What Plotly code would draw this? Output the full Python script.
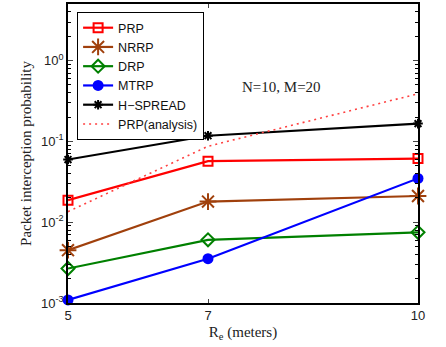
import plotly.graph_objects as go

re_vals = [5, 7, 10]
prp = [0.0187, 0.0569, 0.0613]
nrrp = [0.0045, 0.0180, 0.0211]
drp = [0.00267, 0.00605, 0.0075]
mtrp = [0.00109, 0.00353, 0.0348]
hspread = [0.0596, 0.1175, 0.166]
prp_analysis = [0.0135, 0.087, 0.388]

ytick_vals = [1e-3, 1e-2, 1e-1, 1e0]
ytick_text = ["10<sup>-3</sup>", "10<sup>-2</sup>", "10<sup>-1</sup>", "10<sup>0</sup>"]
xtick_vals = [5, 7, 10]
minor_vals = [m * d for d in [1e-3, 1e-2, 1e-1, 1e0] for m in range(2, 10) if m * d < 5.01]

fig = go.Figure()

series = [
    ("PRP", prp, "#ff0000", dict(symbol="square-open", size=9, line=dict(width=2, color="#ff0000"))),
    ("NRRP", nrrp, "#a0400c", dict(symbol="asterisk-open", size=14, line=dict(width=2, color="#a0400c"))),
    ("DRP", drp, "#008000", dict(symbol="diamond-open", size=10, line=dict(width=2, color="#008000"))),
    ("MTRP", mtrp, "#0000ff", dict(symbol="circle", size=11, color="#0000ff", line=dict(width=0))),
    ("H\u2212SPREAD", hspread, "#000000", dict(symbol="asterisk-open", size=8, line=dict(width=2, color="#000000"))),
]
for name, vals, col, mk in series:
    fig.add_trace(go.Scatter(x=re_vals, y=vals, name=name, mode="lines+markers",
                             line=dict(color=col, width=2.2), marker=mk, cliponaxis=False))

fig.add_trace(go.Scatter(x=re_vals, y=prp_analysis, name="PRP(analysis)", mode="lines",
                         line=dict(color="#ff4040", width=1.6, dash="2px,4px")))

fig.add_annotation(x=0.728, y=0.755, xref="paper", yref="paper", text="N=10, M=20",
                   showarrow=False, font=dict(family="Liberation Serif", size=15, color="#222"))

fig.update_xaxes(range=[5, 10], tickvals=xtick_vals, ticks="inside", ticklen=4,
                 showline=True, linecolor="black", linewidth=1.5, mirror="ticks",
                 showgrid=False, zeroline=False,
                 tickfont=dict(family="Liberation Sans", size=13, color="#222"),
                 title=dict(text="R<sub>e</sub> (meters)", standoff=4,
                            font=dict(family="Liberation Serif", size=15, color="#222")))
fig.update_yaxes(type="log", range=[-3, 0.7], tickvals=ytick_vals, ticktext=ytick_text,
                 ticks="inside", ticklen=5, showline=True, linecolor="black", linewidth=1.5,
                 mirror="ticks", showgrid=False, zeroline=False,
                 minor=dict(tickvals=minor_vals, ticks="inside", ticklen=3, showgrid=False,
                            tickcolor="black"),
                 tickfont=dict(family="Liberation Sans", size=13, color="#222"),
                 title=dict(text="Packet interception probability", standoff=6,
                            font=dict(family="Liberation Serif", size=15, color="#222")))

fig.update_layout(
    width=446, height=347,
    margin=dict(l=68, r=28, t=2, b=44),
    paper_bgcolor="white", plot_bgcolor="white",
    showlegend=True,
    legend=dict(x=0.026, y=0.973, xanchor="left", yanchor="top",
                bgcolor="white", bordercolor="black", borderwidth=1,
                font=dict(family="Liberation Sans", size=12.5, color="#111"),
                tracegroupgap=0, itemwidth=30),
)

fig.write_html("out.html")
